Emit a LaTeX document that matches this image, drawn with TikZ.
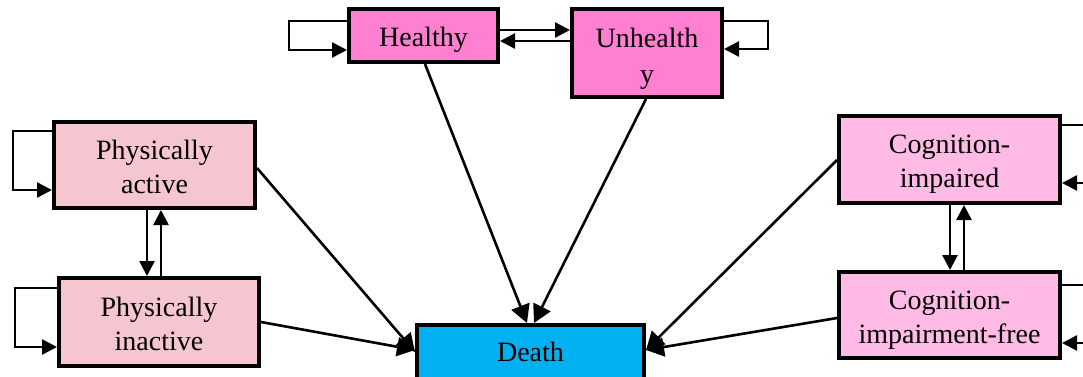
\documentclass[tikz,border=0pt]{standalone}
\usepackage{fontspec}
\setmainfont{Liberation Serif}
\usetikzlibrary{arrows.meta}
\definecolor{hpink}{HTML}{FF80D0}
\definecolor{ppink}{HTML}{F6C6D0}
\definecolor{cpink}{HTML}{FFBBE6}
\definecolor{dblue}{HTML}{00B0F0}
\newcommand\lowtext[2]{\raisebox{-#1}[\height][\depth]{\begin{tabular}{@{}c@{}}#2\end{tabular}}}
\tikzset{
  statebox/.style={draw=black, line width=4pt, inner sep=0pt,
    font=\fontsize{28}{34}\selectfont},
  arr/.style={line width=2.6pt, -{Triangle[length=15pt,width=15pt]}},
  darr/.style={line width=2.6pt, -{Triangle[length=18pt,width=19pt]}}
}
\begin{document}
\begin{tikzpicture}[x=1pt,y=-1pt]
\useasboundingbox (0,0) rectangle (1083,376);
% nodes
\node[statebox, fill=hpink, minimum width=149pt, minimum height=53pt] (H) at (423.5,35.5) {\lowtext{4pt}{Healthy}};
\node[statebox, fill=hpink, minimum width=150pt, minimum height=88pt] (U) at (647,53) {\lowtext{5.5pt}{Unhealth\\[1.5pt]y}};
\node[statebox, fill=ppink, minimum width=201pt, minimum height=86pt] (PA) at (154.5,165) {\lowtext{4.5pt}{Physically\\active}};
\node[statebox, fill=ppink, minimum width=200pt, minimum height=88pt] (PI) at (159,322) {\lowtext{4.5pt}{Physically\\inactive}};
\node[statebox, fill=cpink, minimum width=221pt, minimum height=87pt] (CI) at (949.5,159.5) {\lowtext{4.5pt}{Cognition-\\impaired}};
\node[statebox, fill=cpink, minimum width=221pt, minimum height=86pt] (CF) at (949.5,315) {\lowtext{4.5pt}{Cognition-\\impairment-free}};
\node[statebox, fill=dblue, minimum width=227pt, minimum height=56pt] (D) at (530.5,353) {\lowtext{2pt}{Death}};
% self loops
\draw[arr] (H.west |- 0,21) -- (289,21) -- (289,50) -- (H.west |- 0,50);
\draw[arr] (U.east |- 0,21) -- (768,21) -- (768,49) -- (U.east |- 0,49);
\draw[arr] (PA.west |- 0,131) -- (13,131) -- (13,190) -- (PA.west |- 0,190);
\draw[arr] (PI.west |- 0,288) -- (15,288) -- (15,347) -- (PI.west |- 0,347);
\draw[arr] (CI.east |- 0,125) -- (1100,125) -- (1100,183) -- (CI.east |- 0,183);
\draw[arr] (CF.east |- 0,285) -- (1100,285) -- (1100,343) -- (CF.east |- 0,343);
% pair transitions
\draw[arr] (H.east |- 0,30) -- (U.west |- 0,30);
\draw[arr] (U.west |- 0,41) -- (H.east |- 0,41);
\draw[arr] (PA.south -| 147,0) -- (PI.north -| 147,0);
\draw[arr] (PI.north -| 161,0) -- (PA.south -| 161,0);
\draw[arr] (CI.south -| 950,0) -- (CF.north -| 950,0);
\draw[arr] (CF.north -| 964,0) -- (CI.south -| 964,0);
% to death
\draw[darr] (H.south -| 425,0) -- (D.north -| 527,0);
\draw[darr] (U.south -| 646,0) -- (D.north -| 534,0);
\draw[darr] (PA.east |- 0,168) -- (D.west |- 0,352);
\draw[darr] (PI.east |- 0,322) -- (D.west |- 0,350);
\draw[darr] (CI.west |- 0,160) -- (D.east |- 0,350);
\draw[darr] (CF.west |- 0,318) -- (D.east |- 0,350);
\end{tikzpicture}
\end{document}
